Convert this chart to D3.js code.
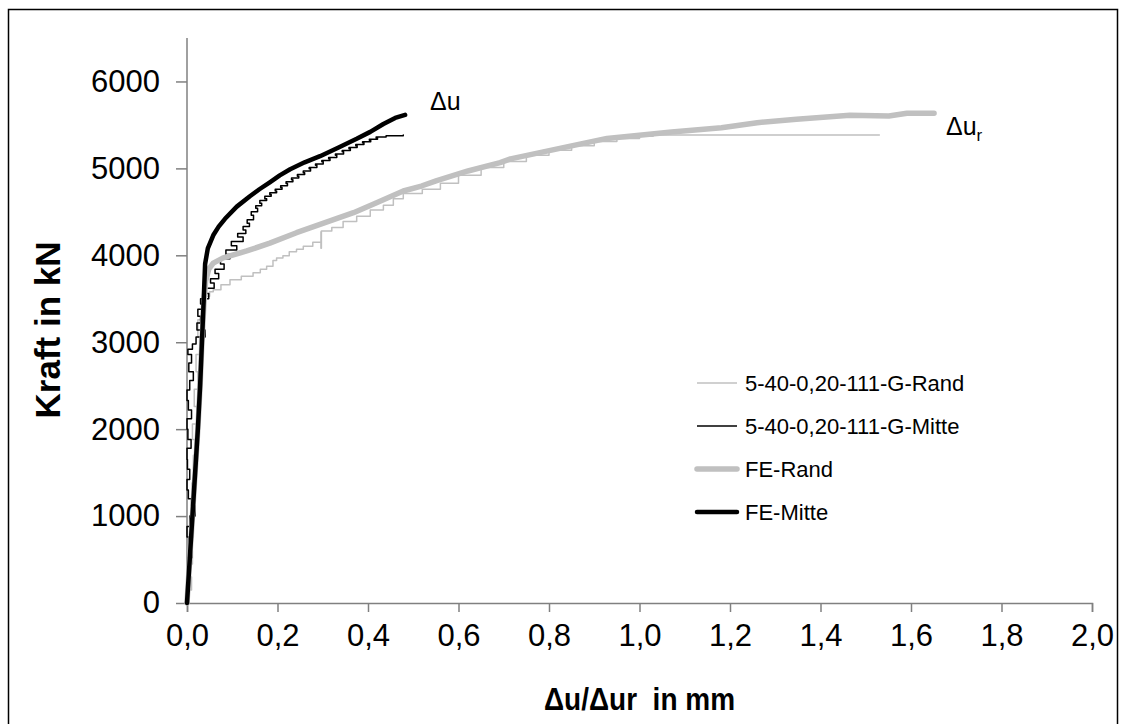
<!DOCTYPE html>
<html>
<head>
<meta charset="utf-8">
<script src="https://cdn.jsdelivr.net/npm/d3@7"></script>
<style>
  html, body { margin: 0; padding: 0; background: #fff; }
  svg { display: block; font-family: "Liberation Sans", Arial, sans-serif; }
</style>
</head>
<body>
<svg id="chart" width="1126" height="724"></svg>
<script>
// Load–displacement curves: test 5-40-0,20-111-G (edge / middle) vs. FE model
// Each point: [displacement in mm, force in kN]
const testRand = [
  [0,0],[0.004,150],[0.010,300],[0.005,450],[0.012,600],[0.007,760],[0.014,900],[0.009,1050],
  [0.016,1200],[0.011,1380],[0.020,1540],[0.014,1700],[0.018,1880],[0.012,2060],[0.022,2260],
  [0.016,2460],[0.024,2660],[0.020,2860],[0.028,3060],[0.024,3260],[0.032,3420],[0.040,3530],
  [0.050,3580],[0.058,3605],[0.075,3660],[0.095,3720],[0.120,3760],[0.146,3800],[0.162,3840],
  [0.176,3875],[0.190,3940],[0.198,3970],[0.212,3995],[0.226,4040],[0.242,4070],[0.257,4105],
  [0.278,4150],[0.296,4270],[0.296,4080],[0.297,4280],[0.320,4320],[0.345,4390],[0.375,4450],
  [0.405,4520],[0.434,4575],[0.456,4650],[0.478,4710],[0.520,4760],[0.560,4830],[0.600,4920],
  [0.650,5010],[0.700,5080],[0.750,5150],[0.800,5210],[0.850,5260],[0.900,5310],[0.950,5345],
  [1.000,5370],[1.030,5385],[1.530,5385]
];
const testMitte = [
  [0,0],[0.003,120],[0.000,260],[0.005,400],[0.002,520],[0.011,640],[0.004,760],[0.000,880],
  [0.006,1000],[0.018,1120],[0.010,1200],[0.003,1300],[0.000,1420],[0.006,1540],[0.001,1650],
  [0.000,1780],[0.009,1880],[0.002,2000],[0.000,2120],[0.010,2220],[0.003,2330],[0.000,2450],
  [0.006,2560],[0.014,2660],[0.004,2760],[0.010,2860],[0.002,2920],[0.012,2980],[0.020,3060],
  [0.040,3140],[0.022,3220],[0.030,3300],[0.024,3380],[0.038,3440],[0.030,3500],[0.048,3560],
  [0.042,3620],[0.060,3680],[0.052,3730],[0.070,3790],[0.062,3840],[0.082,3900],[0.074,3960],
  [0.095,4010],[0.086,4060],[0.110,4110],[0.098,4160],[0.124,4210],[0.112,4250],[0.130,4290],
  [0.124,4330],[0.138,4370],[0.133,4410],[0.147,4460],[0.142,4500],[0.156,4540],[0.152,4570],
  [0.165,4600],[0.161,4630],[0.176,4650],[0.172,4680],[0.186,4700],[0.183,4720],[0.198,4740],
  [0.195,4760],[0.210,4780],[0.207,4800],[0.222,4825],[0.219,4845],[0.234,4870],[0.231,4890],
  [0.247,4910],[0.244,4930],[0.260,4950],[0.257,4970],[0.273,4995],[0.270,5010],[0.287,5035],
  [0.284,5050],[0.301,5075],[0.298,5090],[0.316,5110],[0.313,5125],[0.331,5150],[0.328,5165],
  [0.346,5190],[0.343,5205],[0.361,5225],[0.358,5240],[0.376,5260],[0.373,5275],[0.391,5295],
  [0.388,5305],[0.406,5325],[0.403,5335],[0.421,5350],[0.418,5360],[0.440,5375],[0.478,5385]
];
const feRand = [
  [0,0],[0.006,500],[0.012,1000],[0.018,1500],[0.024,2000],[0.029,2500],[0.033,3000],[0.037,3400],
  [0.041,3700],[0.048,3840],[0.058,3910],[0.080,3970],[0.132,4050],[0.183,4140],[0.242,4260],
  [0.294,4355],[0.368,4490],[0.419,4605],[0.478,4740],[0.518,4797],[0.552,4860],[0.621,4970],
  [0.692,5066],[0.715,5110],[0.842,5250],[0.928,5345],[1.071,5418],[1.181,5468],[1.260,5526],
  [1.347,5564],[1.465,5610],[1.551,5602],[1.591,5634],[1.651,5634]
];
const feMitte = [
  [0,0],[0.006,500],[0.012,1000],[0.018,1500],[0.024,2000],[0.029,2500],[0.033,3000],[0.037,3500],
  [0.040,3900],[0.046,4080],[0.058,4230],[0.070,4330],[0.084,4420],[0.110,4560],[0.139,4680],
  [0.160,4760],[0.183,4840],[0.205,4920],[0.228,4990],[0.260,5070],[0.294,5140],[0.335,5240],
  [0.375,5340],[0.405,5420],[0.434,5510],[0.460,5580],[0.482,5615]
];

const seriesNames = ["5-40-0,20-111-G-Rand", "5-40-0,20-111-G-Mitte", "FE-Rand", "FE-Mitte"];
const xTicks = [0, 0.2, 0.4, 0.6, 0.8, 1.0, 1.2, 1.4, 1.6, 1.8, 2.0];
const yTicks = [0, 1000, 2000, 3000, 4000, 5000, 6000];

const svg = d3.select("#chart");
const W = 1126, H = 724;
const m = { left: 187, right: 34, top: 38, bottom: 121 };

const x = d3.scaleLinear().domain([0, 2]).range([m.left, W - m.right]);
const y = d3.scaleLinear().domain([0, 6500]).range([H - m.bottom, m.top]);

// outer frame
svg.append("path")
  .attr("d", `M8.5,${H + 2} V9.5 H1117.5 V${H + 2}`)
  .attr("fill", "none").attr("stroke", "#000").attr("stroke-width", 1.5);

const de = d3.formatLocale({ decimal: ",", thousands: ".", grouping: [3], currency: ["", "€"] });
const fmtX = de.format(".1f");

const axisColor = "#808080";

// x axis
const gx = svg.append("g")
  .attr("transform", `translate(0,${y(0)})`)
  .call(d3.axisBottom(x).tickValues(xTicks).tickFormat(fmtX).tickSize(9).tickPadding(12));
// y axis
const gy = svg.append("g")
  .attr("transform", `translate(${x(0)},0)`)
  .call(d3.axisLeft(y).tickValues(yTicks).tickFormat(d3.format("d")).tickSize(11).tickPadding(16));

[gx, gy].forEach(g => {
  g.select(".domain").attr("stroke", axisColor).attr("stroke-width", 1.5);
  g.selectAll(".tick line").attr("stroke", axisColor).attr("stroke-width", 1.5);
  g.selectAll(".tick text").attr("fill", "#000").attr("font-size", 31)
    .attr("font-family", "Liberation Sans, Arial, sans-serif");
});
// y axis line extends to the top of the value range
gy.select(".domain").attr("d", `M0,${y(6500)} V${y(0)}`);

// axis titles
svg.append("text")
  .attr("transform", `translate(${x(1.0)},710) scale(1,1.15)`)
  .attr("text-anchor", "middle").attr("font-size", 28).attr("font-weight", "bold")
  .text("\u0394u/\u0394ur\u00a0 in mm");
svg.append("text")
  .attr("transform", `translate(60,330) rotate(-90)`)
  .attr("text-anchor", "middle").attr("font-size", 35).attr("font-weight", "bold")
  .text("Kraft in kN");

// curves
const line = d3.line().x(d => x(d[0])).y(d => y(d[1]));
const stepLine = d3.line().x(d => x(d[0])).y(d => y(d[1])).curve(d3.curveStepAfter);

const styles = [
  { data: testRand,  gen: stepLine, color: "#c0c0c0", width: 1.5 },
  { data: testMitte, gen: stepLine, color: "#000000", width: 1.5 },
  { data: feRand,    gen: line,     color: "#c0c0c0", width: 5.5 },
  { data: feMitte,   gen: line,     color: "#000000", width: 4.5 }
];

styles.forEach(s => {
  svg.append("path")
    .attr("d", s.gen(s.data))
    .attr("fill", "none")
    .attr("stroke", s.color)
    .attr("stroke-width", s.width)
    .attr("stroke-linejoin", "round")
    .attr("stroke-linecap", "round");
});

// end-point annotations
svg.append("text")
  .attr("x", 430).attr("y", 110).attr("font-size", 25)
  .text("\u0394u");
const ur = svg.append("text")
  .attr("x", 946).attr("y", 135).attr("font-size", 25);
ur.append("tspan").text("\u0394u");
ur.append("tspan").attr("font-size", 17).attr("dy", 6).text("r");

// legend
const legendY = [383, 426, 469, 512];
const legend = svg.append("g");
seriesNames.forEach((name, i) => {
  const s = styles[i];
  legend.append("line")
    .attr("x1", 697).attr("x2", 737)
    .attr("y1", legendY[i]).attr("y2", legendY[i])
    .attr("stroke", s.color).attr("stroke-width", s.width)
    .attr("stroke-linecap", s.width > 2 ? "round" : "butt");
  legend.append("text")
    .attr("x", 745).attr("y", legendY[i]).attr("dy", "0.35em")
    .attr("font-size", 22)
    .text(name);
});
</script>
</body>
</html>
